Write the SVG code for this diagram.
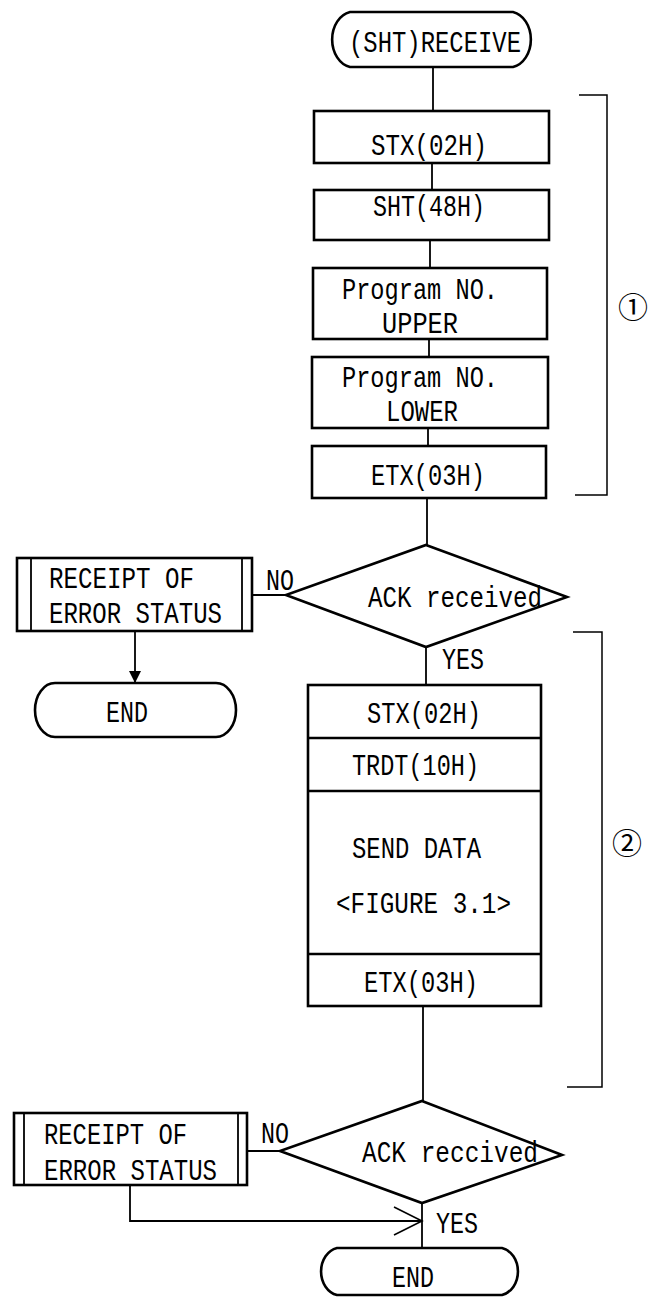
<svg xmlns="http://www.w3.org/2000/svg" width="656" height="1298" viewBox="0 0 656 1298">
<style>
.s{fill:#fff;stroke:#000;stroke-width:2.6}
.t{font-family:"Liberation Mono","DejaVu Sans Mono",monospace;font-size:29px;fill:#000}
.c{stroke:#000;stroke-width:1.8;fill:none}
.b{stroke:#000;stroke-width:1.5;fill:none}
.n{font-family:"Noto Sans CJK JP","DejaVu Sans",sans-serif;font-size:30px;fill:#000;text-anchor:middle}
</style>
<defs>
<marker id="fa" markerWidth="12" markerHeight="16" refX="12" refY="8" orient="auto" markerUnits="userSpaceOnUse">
<path d="M0,2 L12,8 L0,14 Z" fill="#000"/>
</marker>
<marker id="oa" markerWidth="32" markerHeight="32" refX="30" refY="16" orient="auto" markerUnits="userSpaceOnUse">
<path d="M2,2 L30,16 L2,30" fill="none" stroke="#000" stroke-width="1.6"/>
</marker>
</defs>
<g id="connectors">
<line class="c" x1="433" y1="67" x2="433" y2="111"/>
<line class="c" x1="432" y1="163" x2="432" y2="190"/>
<line class="c" x1="430" y1="240" x2="430" y2="268"/>
<line class="c" x1="429" y1="339" x2="429" y2="357"/>
<line class="c" x1="428" y1="428" x2="428" y2="446"/>
<line class="c" x1="427" y1="498" x2="427" y2="545"/>
<line class="c" x1="287" y1="595" x2="252" y2="595"/>
<line class="c" x1="135" y1="631" x2="135" y2="683" marker-end="url(#fa)"/>
<line class="c" x1="426" y1="647" x2="426" y2="685"/>
<line class="c" x1="423" y1="1006" x2="423" y2="1101"/>
<line class="c" x1="280" y1="1151" x2="247" y2="1151"/>
<polyline class="c" points="130,1185 130,1221 422,1221" marker-end="url(#oa)"/>
<line class="c" x1="422" y1="1203" x2="422" y2="1248"/>
<text class="t" x="266" y="590" textLength="28" lengthAdjust="spacingAndGlyphs">NO</text>
<text class="t" x="442" y="669" textLength="42" lengthAdjust="spacingAndGlyphs">YES</text>
<text class="t" x="261" y="1143" textLength="28" lengthAdjust="spacingAndGlyphs">NO</text>
<text class="t" x="436" y="1233" textLength="42" lengthAdjust="spacingAndGlyphs">YES</text>
</g>
<g id="bracket1">
<polyline class="b" points="579,95 607,95 607,495 575,495"/>
<text class="n" x="633" y="318">①</text>
</g>
<g id="bracket2">
<polyline class="b" points="573,632 602,632 602,1087 567,1087"/>
<text class="n" x="627" y="854">②</text>
</g>
<g id="start">
<path class="s" d="M350,12 H513 A22,28 0 0 1 513,67 H350 A22,28 0 0 1 350,12 Z"/>
<text class="t" x="349" y="52" textLength="172" lengthAdjust="spacingAndGlyphs">(SHT)RECEIVE</text>
</g>
<g id="stx1">
<rect class="s" x="314" y="111" width="235" height="52"/>
<text class="t" x="371" y="155" textLength="116" lengthAdjust="spacingAndGlyphs">STX(02H)</text>
</g>
<g id="sht">
<rect class="s" x="314" y="190" width="235" height="50"/>
<text class="t" x="373" y="216" textLength="112" lengthAdjust="spacingAndGlyphs">SHT(48H)</text>
</g>
<g id="prog-upper">
<rect class="s" x="313" y="268" width="234" height="71"/>
<text class="t" x="342" y="299" textLength="156" lengthAdjust="spacingAndGlyphs">Program NO.</text>
<text class="t" x="382" y="333" textLength="76" lengthAdjust="spacingAndGlyphs">UPPER</text>
</g>
<g id="prog-lower">
<rect class="s" x="312" y="357" width="236" height="71"/>
<text class="t" x="342" y="387" textLength="156" lengthAdjust="spacingAndGlyphs">Program NO.</text>
<text class="t" x="386" y="421" textLength="72" lengthAdjust="spacingAndGlyphs">LOWER</text>
</g>
<g id="etx1">
<rect class="s" x="312" y="446" width="234" height="52"/>
<text class="t" x="371" y="485" textLength="114" lengthAdjust="spacingAndGlyphs">ETX(03H)</text>
</g>
<g id="ack1">
<polygon class="s" points="426,545 567,597 426,647 286,595"/>
<text class="t" x="368" y="607" textLength="174" lengthAdjust="spacingAndGlyphs">ACK received</text>
</g>
<g id="err1">
<rect class="s" x="17" y="558" width="235" height="73"/>
<line class="c" x1="31" y1="558" x2="31" y2="631"/>
<line class="c" x1="242" y1="558" x2="242" y2="631"/>
<text class="t" x="49" y="588" textLength="145" lengthAdjust="spacingAndGlyphs">RECEIPT OF</text>
<text class="t" x="49" y="623" textLength="173" lengthAdjust="spacingAndGlyphs">ERROR STATUS</text>
</g>
<g id="end1">
<path class="s" d="M55,683 H216 A20,27 0 0 1 216,737 H55 A20,27 0 0 1 55,683 Z"/>
<text class="t" x="106" y="722" textLength="42" lengthAdjust="spacingAndGlyphs">END</text>
</g>
<g id="send">
<rect class="s" x="308" y="685" width="233" height="321"/>
<line class="s" x1="308" y1="738" x2="541" y2="738"/>
<line class="s" x1="308" y1="791" x2="541" y2="791"/>
<line class="s" x1="308" y1="954" x2="541" y2="954"/>
<text class="t" x="367" y="723" textLength="114" lengthAdjust="spacingAndGlyphs">STX(02H)</text>
<text class="t" x="352" y="775" textLength="127" lengthAdjust="spacingAndGlyphs">TRDT(10H)</text>
<text class="t" x="352" y="858" textLength="129" lengthAdjust="spacingAndGlyphs">SEND DATA</text>
<text class="t" x="336" y="913" textLength="175" lengthAdjust="spacingAndGlyphs">&lt;FIGURE 3.1&gt;</text>
<text class="t" x="364" y="992" textLength="114" lengthAdjust="spacingAndGlyphs">ETX(03H)</text>
</g>
<g id="ack2">
<polygon class="s" points="422,1101 562,1155 422,1203 280,1151"/>
<text class="t" x="362" y="1162" textLength="176" lengthAdjust="spacingAndGlyphs">ACK reccived</text>
</g>
<g id="err2">
<rect class="s" x="14" y="1113" width="233" height="72"/>
<line class="c" x1="24" y1="1113" x2="24" y2="1185"/>
<line class="c" x1="238" y1="1113" x2="238" y2="1185"/>
<text class="t" x="44" y="1144" textLength="143" lengthAdjust="spacingAndGlyphs">RECEIPT OF</text>
<text class="t" x="44" y="1180" textLength="173" lengthAdjust="spacingAndGlyphs">ERROR STATUS</text>
</g>
<g id="end2">
<path class="s" d="M337,1248 H502 A20,24 0 0 1 502,1295 H337 A20,24 0 0 1 337,1248 Z"/>
<text class="t" x="392" y="1287" textLength="42" lengthAdjust="spacingAndGlyphs">END</text>
</g>
</svg>
